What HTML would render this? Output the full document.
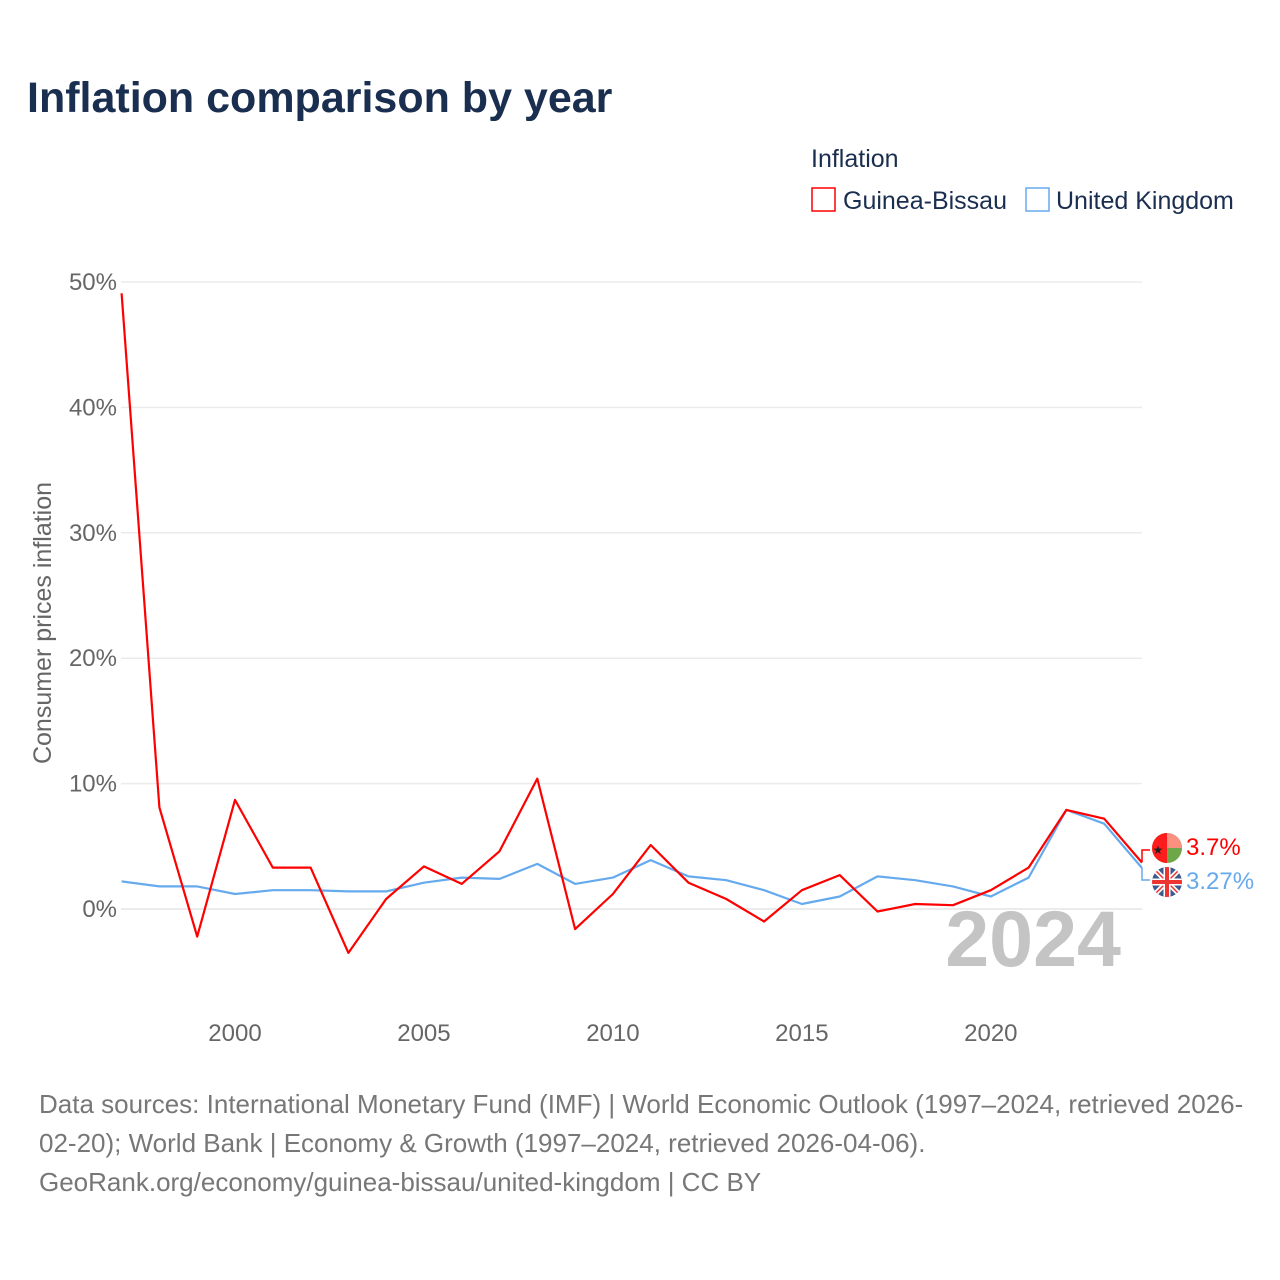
<!DOCTYPE html>
<html><head><meta charset="utf-8"><style>
body{margin:0;background:#fff;font-family:"Liberation Sans",sans-serif;}
#wrap{position:relative;width:1280px;height:1280px;overflow:hidden;}
</style></head><body>
<div id="wrap">
<svg id="chart" width="1280" height="1280" style="position:absolute;left:0;top:0">
<text x="27" y="112" font-size="43" font-weight="bold" fill="#1a2e4f">Inflation comparison by year</text>
<text x="811" y="167" font-size="25" fill="#1a2e4f">Inflation</text>
<g><rect x="812" y="188" width="23" height="23" fill="none" stroke="#ff0000" stroke-width="1.5"/><text x="843" y="209" font-size="25" fill="#1a2e4f">Guinea-Bissau</text></g>
<g><rect x="1026" y="188" width="23" height="23" fill="none" stroke="#66aaee" stroke-width="1.5"/><text x="1056" y="209" font-size="25" fill="#1a2e4f">United Kingdom</text></g>
<text transform="translate(51,623) rotate(-90)" text-anchor="middle" font-size="25" fill="#666">Consumer prices inflation</text>
<g id="grid"></g><g id="yticks"></g><g id="xticks"></g>
<text x="1121" y="966" text-anchor="end" font-size="79" font-weight="bold" fill="#c4c4c4">2024</text>
<g id="lines"></g>
<g>
<path d="M1142,862 V850 H1150" fill="none" stroke="#ff0000" stroke-width="1.5"/>
<path d="M1142,868 V880 H1150" fill="none" stroke="#66aaee" stroke-width="1.5"/>
<g>
<clipPath id="c1"><circle cx="1167" cy="848" r="15"/></clipPath>
<g clip-path="url(#c1)"><rect x="1152" y="833" width="30" height="30" fill="#6ea74a"/><rect x="1167" y="833" width="15" height="15" fill="#f99080"/><rect x="1152" y="833" width="15" height="30" fill="#ff1c1c"/><text x="1158" y="854" font-size="12" text-anchor="middle" fill="#222">★</text></g></g>
<g>
<clipPath id="c2"><circle cx="1167" cy="882" r="15"/></clipPath>
<g clip-path="url(#c2)"><rect x="1152" y="867" width="30" height="30" fill="#3c5a8c"/><path d="M1152,867 L1182,897 M1182,867 L1152,897" stroke="#fff" stroke-width="5"/><path d="M1152,867 L1182,897 M1182,867 L1152,897" stroke="#e33" stroke-width="1.5"/><path d="M1167,867 V897 M1152,882 H1182" stroke="#fff" stroke-width="7"/><path d="M1167,867 V897 M1152,882 H1182" stroke="#e33" stroke-width="4"/></g></g>
<text x="1186" y="855" font-size="24" fill="#ff0000">3.7%</text>
<text x="1186" y="889" font-size="24" fill="#66aaee">3.27%</text>
</g>
<g font-size="26" fill="#777">
<text x="39" y="1113">Data sources: International Monetary Fund (IMF) | World Economic Outlook (1997–2024, retrieved 2026-</text>
<text x="39" y="1152">02-20); World Bank | Economy &amp; Growth (1997–2024, retrieved 2026-04-06).</text>
<text x="39" y="1191">GeoRank.org/economy/guinea-bissau/united-kingdom | CC BY</text>
</g>
</svg>
</div>
<script>
const years = [1997,1998,1999,2000,2001,2002,2003,2004,2005,2006,2007,2008,2009,2010,2011,2012,2013,2014,2015,2016,2017,2018,2019,2020,2021,2022,2023,2024];
const guineaBissau = [49.1,8.1,-2.2,8.7,3.3,3.3,-3.5,0.8,3.4,2.0,4.6,10.4,-1.6,1.2,5.1,2.1,0.8,-1.0,1.5,2.7,-0.2,0.4,0.3,1.5,3.3,7.9,7.2,3.7];
const unitedKingdom = [2.2,1.8,1.8,1.2,1.5,1.5,1.4,1.4,2.1,2.5,2.4,3.6,2.0,2.5,3.9,2.6,2.3,1.5,0.4,1.0,2.6,2.3,1.8,1.0,2.5,7.9,6.8,3.27];
const yTicks = [0,10,20,30,40,50];
const yTickLabels = ["0%","10%","20%","30%","40%","50%"];
const xTicks = [2000,2005,2010,2015,2020];
const xTickLabels = ["2000","2005","2010","2015","2020"];

const NS = "http://www.w3.org/2000/svg";
const xS = y => 121.6 + (y - 1997) * (1142 - 121.6) / 27;
const yS = v => 909 - v * 12.54;
function mk(tag, attrs, parent){const e=document.createElementNS(NS,tag);for(const k in attrs)e.setAttribute(k,attrs[k]);parent.appendChild(e);return e;}
const grid=document.getElementById('grid'), yt=document.getElementById('yticks'), xt=document.getElementById('xticks'), lines=document.getElementById('lines');
yTicks.forEach((v,i)=>{
  const l=mk('line',{x1:121,x2:1142,y1:yS(v),y2:yS(v),stroke:'#ebebeb','stroke-width':v===0?2:1.5},grid);
  
  
  const t=mk('text',{x:117,y:yS(v)+8,'text-anchor':'end','font-size':24,fill:'#666'},yt);
  t.textContent=yTickLabels[i];
  
  
});
xTicks.forEach((v,i)=>{
  const t=mk('text',{x:xS(v),y:1041,'text-anchor':'middle','font-size':24,fill:'#666'},xt);
  t.textContent=xTickLabels[i];
  
  
});
function line(vals,color,name){
  const d=vals.map((v,i)=>(i?'L':'M')+xS(years[i]).toFixed(1)+','+yS(v).toFixed(1)).join(' ');
  const p=mk('path',{d:d,fill:'none',stroke:color,'stroke-width':2.2,'stroke-linejoin':'round'},lines);
  
  
}
line(unitedKingdom,'#66aaee','line-united-kingdom');
line(guineaBissau,'#ff0000','line-guinea-bissau');
</script>
</body></html>
